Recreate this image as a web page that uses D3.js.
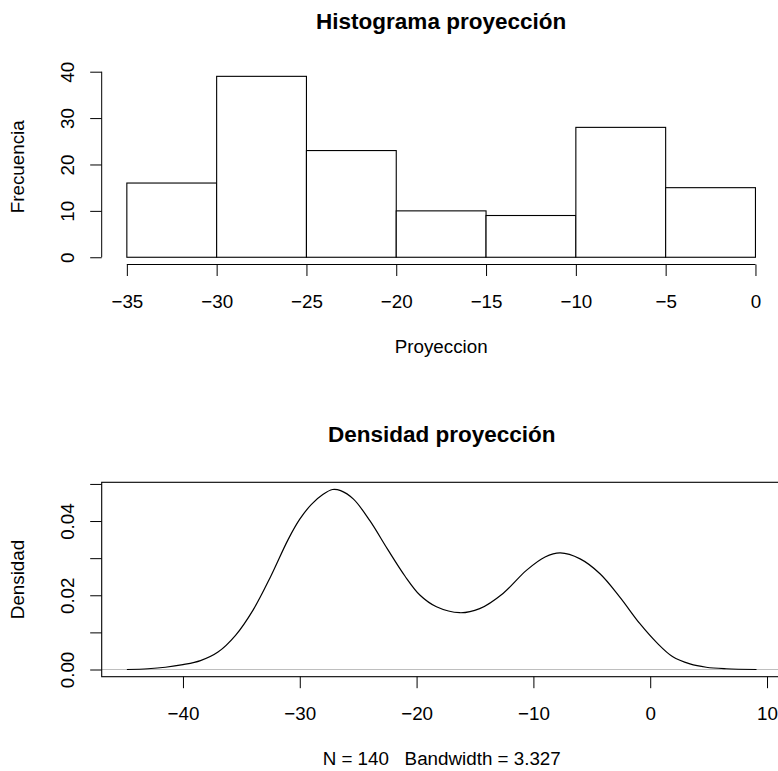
<!DOCTYPE html>
<html lang="es">
<head>
  <meta charset="UTF-8">
  <title>Histograma y densidad de la proyección</title>
  <style>
    body {
      margin: 0;
      background: #ffffff;
    }
    svg {
      display: block;
      font-family: "Liberation Sans", Arial, Helvetica, sans-serif;
    }
    .axis text {
      font-size: 18.8px;
      fill: #000;
    }
    .axis line, .axis path {
      stroke: #000;
    }
  </style>
</head>
<body>
  <svg id="chart" width="778" height="771"></svg>

  <script src="https://cdnjs.cloudflare.com/ajax/libs/d3/7.8.5/d3.min.js"></script>
  <script>
    // histogram data (breaks of width 5)
    const breaks = [-35, -30, -25, -20, -15, -10, -5, 0];
    const counts = [16, 39, 23, 10, 9, 28, 15];
    const histYTicks = [0, 10, 20, 30, 40];

    // density curve
    const densX = [-44.8, -43, -41.5, -40, -38.5, -37, -35.5, -34, -32.5, -31, -30, -29, -28, -27.2,
      -26.5, -25.4, -24, -22.5, -21, -19.7, -18.3, -16.3, -14.6, -12.6, -10.6, -9, -7.7, -6,
      -4.3, -2.6, -0.9, 0.6, 1.9, 3.4, 4.8, 6.5, 9.1];
    const densY = [0.0000, 0.0002, 0.0006, 0.0013, 0.0024, 0.0047, 0.0092, 0.0160, 0.0250, 0.0350,
      0.0405, 0.0445, 0.0472, 0.0485, 0.0482, 0.0459, 0.0401, 0.0325, 0.0252, 0.0200, 0.0169,
      0.0153, 0.0164, 0.0205, 0.0267, 0.0303, 0.0314, 0.0298, 0.0258, 0.0195, 0.0124, 0.0071,
      0.0035, 0.0015, 0.0006, 0.0002, 0.0000];
    const densXTicks = [-40, -30, -20, -10, 0, 10];
    const densYTicks = [0, 0.01, 0.02, 0.03, 0.04, 0.05];
    const densYLabels = [0, 0.02, 0.04];

    const svg = d3.select("#chart");

    // R style 4% padding on both ends
    function pad(lo, hi) {
      const d = (hi - lo) * 0.04;
      return [lo - d, hi + d];
    }

    // ---------- top: histogram ----------
    const histBox = { left: 101.7, right: 780.6, top: 69.1, bottom: 264.5 };

    const xH = d3.scaleLinear()
      .domain(pad(d3.min(breaks), d3.max(breaks)))
      .range([histBox.left, histBox.right]);
    const yH = d3.scaleLinear()
      .domain(pad(0, d3.max(counts)))
      .range([histBox.bottom, histBox.top]);

    const bins = counts.map((c, i) => ({ x0: breaks[i], x1: breaks[i + 1], n: c }));

    svg.append("g")
      .selectAll("rect")
      .data(bins)
      .join("rect")
      .attr("x", d => xH(d.x0))
      .attr("y", d => yH(d.n))
      .attr("width", d => xH(d.x1) - xH(d.x0))
      .attr("height", d => yH(0) - yH(d.n))
      .attr("fill", "#fff")
      .attr("stroke", "#000")
      .attr("stroke-width", 1.1);

    // x axis
    const xAxisH = svg.append("g")
      .attr("class", "axis")
      .attr("transform", `translate(0,${histBox.bottom})`)
      .call(d3.axisBottom(xH).tickValues(breaks).tickSize(11.5).tickPadding(7)
        .tickFormat(d3.format("d")));
    xAxisH.select(".domain").remove();
    xAxisH.append("line")
      .attr("x1", xH(d3.min(breaks))).attr("x2", xH(d3.max(breaks)))
      .attr("stroke", "#000");
    xAxisH.selectAll("text").attr("dy", 0).attr("y", 43.2);

    // y axis
    const yAxisH = svg.append("g")
      .attr("class", "axis")
      .attr("transform", `translate(${histBox.left},0)`)
      .call(d3.axisLeft(yH).tickValues(histYTicks).tickSize(11.5).tickFormat(d3.format("d")));
    yAxisH.select(".domain").remove();
    yAxisH.append("line")
      .attr("y1", yH(0)).attr("y2", yH(d3.max(histYTicks)))
      .attr("stroke", "#000");
    yAxisH.selectAll("text")
      .attr("transform", "rotate(-90)")
      .attr("x", 0).attr("dy", 0).attr("y", -27.5)
      .attr("text-anchor", "middle");

    svg.append("text")
      .attr("x", (histBox.left + histBox.right) / 2)
      .attr("y", 28.5)
      .attr("text-anchor", "middle")
      .attr("font-weight", "bold")
      .attr("font-size", "22.5px")
      .text("Histograma proyección");

    svg.append("text")
      .attr("x", (histBox.left + histBox.right) / 2)
      .attr("y", 353.3)
      .attr("text-anchor", "middle")
      .attr("font-size", "18.8px")
      .text("Proyeccion");

    svg.append("text")
      .attr("transform", `translate(24,${(histBox.top + histBox.bottom) / 2}) rotate(-90)`)
      .attr("text-anchor", "middle")
      .attr("font-size", "18.8px")
      .text("Frecuencia");

    // ---------- bottom: density ----------
    const densBox = { left: 101.7, right: 781.7, top: 482.3, bottom: 676.7 };

    const xD = d3.scaleLinear()
      .domain(pad(d3.min(densX), d3.max(densX)))
      .range([densBox.left, densBox.right]);
    const yD = d3.scaleLinear()
      .domain(pad(0, d3.max(densY)))
      .range([densBox.bottom, densBox.top]);

    // zero line
    svg.append("line")
      .attr("x1", densBox.left).attr("x2", densBox.right)
      .attr("y1", yD(0)).attr("y2", yD(0))
      .attr("stroke", "#bebebe")
      .attr("stroke-width", 1.2);

    const pts = densX.map((x, i) => [x, densY[i]]);
    svg.append("path")
      .datum(pts)
      .attr("fill", "none")
      .attr("stroke", "#000")
      .attr("stroke-width", 1.2)
      .attr("d", d3.line()
        .x(d => xD(d[0]))
        .y(d => yD(d[1]))
        .curve(d3.curveCatmullRom.alpha(0.5)));

    svg.append("rect")
      .attr("x", densBox.left).attr("y", densBox.top)
      .attr("width", densBox.right - densBox.left)
      .attr("height", densBox.bottom - densBox.top)
      .attr("fill", "none")
      .attr("stroke", "#000")
      .attr("stroke-width", 1.1);

    const xAxisD = svg.append("g")
      .attr("class", "axis")
      .attr("transform", `translate(0,${densBox.bottom})`)
      .call(d3.axisBottom(xD).tickValues(densXTicks).tickSize(11.5).tickFormat(d3.format("d")));
    xAxisD.select(".domain").remove();
    xAxisD.selectAll("text").attr("dy", 0).attr("y", 43.3);

    const yAxisD = svg.append("g")
      .attr("class", "axis")
      .attr("transform", `translate(${densBox.left},0)`)
      .call(d3.axisLeft(yD).tickValues(densYTicks).tickSize(11.5)
        .tickFormat(d => densYLabels.some(v => Math.abs(v - d) < 1e-9) ? d3.format(".2f")(d) : ""));
    yAxisD.select(".domain").remove();
    yAxisD.selectAll("text")
      .attr("transform", "rotate(-90)")
      .attr("x", 0).attr("dy", 0).attr("y", -27.5)
      .attr("text-anchor", "middle");

    svg.append("text")
      .attr("x", (densBox.left + densBox.right) / 2)
      .attr("y", 441.7)
      .attr("text-anchor", "middle")
      .attr("font-weight", "bold")
      .attr("font-size", "22.5px")
      .text("Densidad proyección");

    svg.append("text")
      .attr("x", (densBox.left + densBox.right) / 2)
      .attr("y", 765)
      .attr("text-anchor", "middle")
      .attr("font-size", "18.8px")
      .style("white-space", "pre")
      .text("N = 140   Bandwidth = 3.327");

    svg.append("text")
      .attr("transform", `translate(24,${(densBox.top + densBox.bottom) / 2}) rotate(-90)`)
      .attr("text-anchor", "middle")
      .attr("font-size", "18.8px")
      .text("Densidad");
  </script>
</body>
</html>
